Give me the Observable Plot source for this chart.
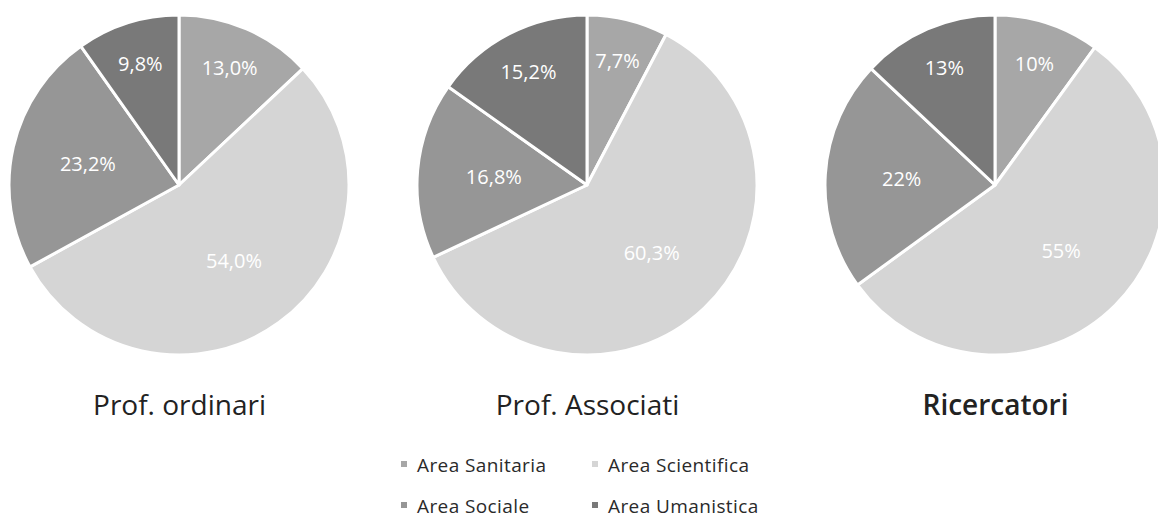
<!DOCTYPE html>
<html><head><meta charset="utf-8">
<script src="https://cdn.jsdelivr.net/npm/d3@7"></script>
<script src="https://cdn.jsdelivr.net/npm/@observablehq/plot@0.6"></script>
<style>
body{margin:0;background:#fff;font-family:"Open Sans", sans-serif;overflow:hidden;}
#legend{display:grid;grid-template-columns:191px auto;margin-left:401px;margin-top:24px;row-gap:19px;font-size:19px;line-height:22px;letter-spacing:0.4px;color:#2a2a2a;}
#legend .item{display:flex;align-items:center;height:22px;}
#legend .sw{width:6px;height:6px;margin-right:10px;margin-top:-3px;}
</style></head><body><div id="chart"></div><div id="legend"></div>
<script>
const groups = ["Prof. ordinari", "Prof. Associati", "Ricercatori"];
const categories = ["Area Sanitaria", "Area Scientifica", "Area Sociale", "Area Umanistica"];
const ordinari = [13.0, 54.0, 23.2, 9.8];
const associati = [7.7, 60.3, 16.8, 15.2];
const ricercatori = [10, 55, 22, 13];
const labelsOrdinari = ["13,0%", "54,0%", "23,2%", "9,8%"];
const labelsAssociati = ["7,7%", "60,3%", "16,8%", "15,2%"];
const labelsRicercatori = ["10%", "55%", "22%", "13%"];
const colors = ["#a7a7a7", "#d5d5d5", "#969696", "#797979"];

const series = [ordinari, associati, ricercatori];
const labels = [labelsOrdinari, labelsAssociati, labelsRicercatori];
const rows = [];
groups.forEach((g, gi) => categories.forEach((c, ci) => rows.push({group: g, category: c, value: series[gi][ci], label: labels[gi][ci]})));

const pies = Plot.dot(rows, {
  x: "group", y: () => 0, fill: "category",
  render(index, scales, values, dimensions, context) {
    const root = d3.create("svg:g");
    const r = Math.abs(scales.y(1) - scales.y(0));
    for (const grp of groups) {
      const idx = index.filter(i => rows[i].group === grp);
      const arcs = d3.pie().sort(null).value(i => rows[i].value)(idx);
      const cx = scales.x(grp), cy = scales.y(0);
      const arc = d3.arc().innerRadius(0).outerRadius(r);
      const g = root.append("g").attr("transform", `translate(${cx},${cy})`);
      g.selectAll("path").data(arcs).join("path")
        .attr("d", arc)
        .attr("fill", a => scales.color(rows[a.data].category))
        .attr("stroke", "#fff").attr("stroke-width", 3).attr("stroke-linejoin", "round");
      g.selectAll("text").data(arcs).join("text")
        .attr("transform", a => {
          const k = rows[a.data].value < 16 ? 0.75 : 0.55;
          const c = d3.arc().innerRadius(0).outerRadius(2 * r * k).centroid(a);
          return `translate(${c[0]},${c[1]})`;
        })
        .attr("text-anchor", "middle").attr("dy", "0.36em")
        .attr("fill", "#fff").attr("font-size", 20).attr("font-family", "'Open Sans', sans-serif")
        .text(a => rows[a.data].label);
    }
    return root.node();
  }
});

const chart = Plot.plot({
  width: 1158, height: 430,
  marginTop: 0, marginBottom: 35, marginLeft: 0, marginRight: 0,
  x: {type: "point", domain: groups, range: [179, 995], padding: 0, axis: null},
  y: {domain: [-1, 1], range: [185 + 170, 185 - 170], axis: null},
  color: {domain: categories, range: colors},
  style: {fontFamily: "'Open Sans', sans-serif", background: "#fff"},
  marks: [
    pies,
    Plot.axisX({ticks: groups.slice(0, 2), tickSize: 0, tickPadding: 0, fontSize: 28, fill: "#222", anchor: "bottom", label: null}),
    Plot.axisX({ticks: groups.slice(2), tickSize: 0, tickPadding: 0, fontSize: 28, fontWeight: 600, fill: "#222", anchor: "bottom", label: null})
  ]
});
document.getElementById("chart").appendChild(chart);

const color = chart.scale("color");
d3.select("#legend").selectAll(".item").data(color.domain).join("div")
  .attr("class", "item")
  .html((d, i) => `<span class="sw" style="background:${color.range[i]}"></span><span>${d}</span>`);
</script></body></html>
